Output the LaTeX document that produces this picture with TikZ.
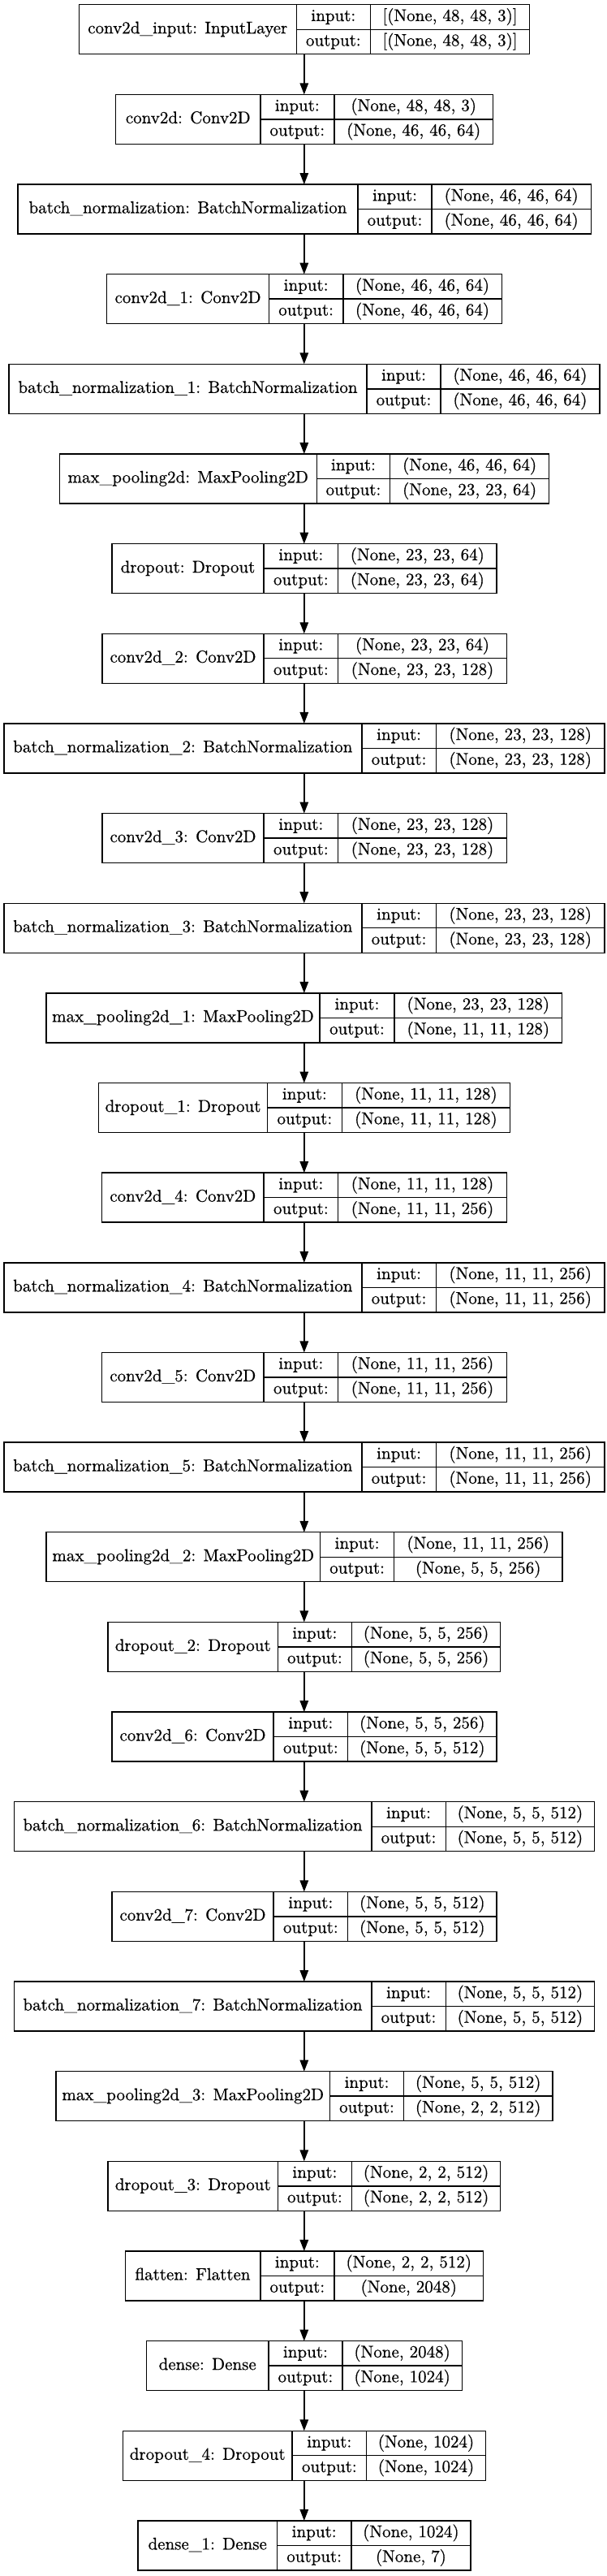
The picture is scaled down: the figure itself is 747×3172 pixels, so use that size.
\documentclass[tikz,border=0pt]{standalone}
\usepackage{fontspec}
\usetikzlibrary{arrows.meta}
\newfontfamily\lmst{lmroman10-regular.otf}[FakeBold=0.6]
\newcommand\lf{\lmst\fontsize{21}{25}\selectfont}
\tikzset{
  frame/.style={draw=none, minimum height=61pt, inner sep=0pt, outer sep=0pt},
  cell/.style={draw, line width=1.4pt, inner sep=0pt, outer sep=0pt, font=\lf, text height=14.5pt, text depth=4.5pt},
  flow/.style={line width=1.4pt, -{Triangle[length=14pt,width=10.5pt]}}
}
% #1 id, #2 index, #3 left, #4 divider1, #5 divider2, #6 right, #7 name, #8 input, #9 output
\newcommand\layer[9]{%
  \pgfmathsetmacro\Yt{-5.7-#2*110.65}%
  \pgfmathsetmacro\Wt{#6-#3}%
  \pgfmathsetmacro\Wn{#4-#3}%
  \pgfmathsetmacro\Wi{#5-#4}%
  \pgfmathsetmacro\Wv{#6-#5}%
  \node[frame, minimum width=\Wt pt, anchor=north west] (#1) at (#3pt,\Yt pt) {};
  \node[cell, minimum width=\Wn pt, minimum height=61pt, anchor=north west] (#1n) at (#1.north west) {#7};
  \node[cell, minimum width=\Wi pt, minimum height=30.5pt, anchor=north west] (#1i) at (#1n.north east) {input:};
  \node[cell, minimum width=\Wi pt, minimum height=30.5pt, anchor=north west] (#1o) at (#1i.south west) {output:};
  \node[cell, minimum width=\Wv pt, minimum height=30.5pt, anchor=north west] (#1vi) at (#1i.north east) {#8};
  \node[cell, minimum width=\Wv pt, minimum height=30.5pt, anchor=north west] (#1vo) at (#1o.north east) {#9};
}
\begin{document}
\begin{tikzpicture}
\fill[white] (0,0) rectangle (747pt,-3172pt);
\useasboundingbox (0,0) rectangle (747pt,-3172pt);
\layer{L0}{0}{97.2}{365.3}{456.3}{652.7}{conv2d\_input: InputLayer}{[(None, 48, 48, 3)]}{[(None, 48, 48, 3)]}
\layer{L1}{1}{142.7}{320.8}{411.8}{607.6}{conv2d: Conv2D}{(None, 48, 48, 3)}{(None, 46, 46, 64)}
\layer{L2}{2}{22.0}{441.0}{532.0}{728.3}{batch\_normalization: BatchNormalization}{(None, 46, 46, 64)}{(None, 46, 46, 64)}
\layer{L3}{3}{131.7}{331.4}{422.8}{618.2}{conv2d\_1: Conv2D}{(None, 46, 46, 64)}{(None, 46, 46, 64)}
\layer{L4}{4}{11.0}{452.0}{543.0}{738.8}{batch\_normalization\_1: BatchNormalization}{(None, 46, 46, 64)}{(None, 46, 46, 64)}
\layer{L5}{5}{73.3}{390.2}{480.7}{676.6}{max\_pooling2d: MaxPooling2D}{(None, 46, 46, 64)}{(None, 23, 23, 64)}
\layer{L6}{6}{137.9}{325.1}{416.6}{612.0}{dropout: Dropout}{(None, 23, 23, 64)}{(None, 23, 23, 64)}
\layer{L7}{7}{125.9}{325.1}{416.6}{624.4}{conv2d\_2: Conv2D}{(None, 23, 23, 64)}{(None, 23, 23, 128)}
\layer{L8}{8}{4.8}{445.8}{537.3}{745.1}{batch\_normalization\_2: BatchNormalization}{(None, 23, 23, 128)}{(None, 23, 23, 128)}
\layer{L9}{9}{125.9}{325.1}{416.6}{624.4}{conv2d\_3: Conv2D}{(None, 23, 23, 128)}{(None, 23, 23, 128)}
\layer{L10}{10}{4.8}{445.8}{537.3}{745.1}{batch\_normalization\_3: BatchNormalization}{(None, 23, 23, 128)}{(None, 23, 23, 128)}
\layer{L11}{11}{56.9}{394.0}{485.9}{692.7}{max\_pooling2d\_1: MaxPooling2D}{(None, 23, 23, 128)}{(None, 11, 11, 128)}
\layer{L12}{12}{121.5}{329.5}{421.2}{628.6}{dropout\_1: Dropout}{(None, 11, 11, 128)}{(None, 11, 11, 128)}
\layer{L13}{13}{125.5}{325.1}{416.6}{624.4}{conv2d\_4: Conv2D}{(None, 11, 11, 128)}{(None, 11, 11, 256)}
\layer{L14}{14}{4.8}{445.8}{537.3}{745.1}{batch\_normalization\_4: BatchNormalization}{(None, 11, 11, 256)}{(None, 11, 11, 256)}
\layer{L15}{15}{125.5}{325.1}{416.6}{624.4}{conv2d\_5: Conv2D}{(None, 11, 11, 256)}{(None, 11, 11, 256)}
\layer{L16}{16}{4.8}{445.8}{537.3}{745.1}{batch\_normalization\_5: BatchNormalization}{(None, 11, 11, 256)}{(None, 11, 11, 256)}
\layer{L17}{17}{57.0}{394.6}{485.5}{692.9}{max\_pooling2d\_2: MaxPooling2D}{(None, 11, 11, 256)}{(None, 5, 5, 256)}
\layer{L18}{18}{133.1}{342.4}{433.4}{616.7}{dropout\_2: Dropout}{(None, 5, 5, 256)}{(None, 5, 5, 256)}
\layer{L19}{19}{137.9}{337.1}{428.6}{612.0}{conv2d\_6: Conv2D}{(None, 5, 5, 256)}{(None, 5, 5, 512)}
\layer{L20}{20}{17.2}{457.8}{549.2}{732.6}{batch\_normalization\_6: BatchNormalization}{(None, 5, 5, 512)}{(None, 5, 5, 512)}
\layer{L21}{21}{137.9}{337.1}{428.6}{612.0}{conv2d\_7: Conv2D}{(None, 5, 5, 512)}{(None, 5, 5, 512)}
\layer{L22}{22}{17.2}{457.8}{549.2}{732.6}{batch\_normalization\_7: BatchNormalization}{(None, 5, 5, 512)}{(None, 5, 5, 512)}
\layer{L23}{23}{69.0}{406.5}{497.5}{680.9}{max\_pooling2d\_3: MaxPooling2D}{(None, 5, 5, 512)}{(None, 2, 2, 512)}
\layer{L24}{24}{133.1}{342.4}{433.4}{616.7}{dropout\_3: Dropout}{(None, 2, 2, 512)}{(None, 2, 2, 512)}
\layer{L25}{25}{154.2}{320.8}{411.8}{595.7}{flatten: Flatten}{(None, 2, 2, 512)}{(None, 2048)}
\layer{L26}{26}{180.5}{330.9}{421.9}{569.3}{dense: Dense}{(None, 2048)}{(None, 1024)}
\layer{L27}{27}{151.3}{360.1}{451.5}{598.5}{dropout\_4: Dropout}{(None, 1024)}{(None, 1024)}
\layer{L28}{28}{170.0}{341.4}{432.9}{579.9}{dense\_1: Dense}{(None, 1024)}{(None, 7)}
\foreach \a/\b in {0/1,1/2,2/3,3/4,4/5,5/6,6/7,7/8,8/9,9/10,10/11,11/12,12/13,13/14,14/15,15/16,16/17,17/18,18/19,19/20,20/21,21/22,22/23,23/24,24/25,25/26,26/27,27/28}
  \draw[flow] (L\a.south -| 374.8pt,0) -- (L\b.north -| 374.8pt,0);
\end{tikzpicture}
\end{document}
